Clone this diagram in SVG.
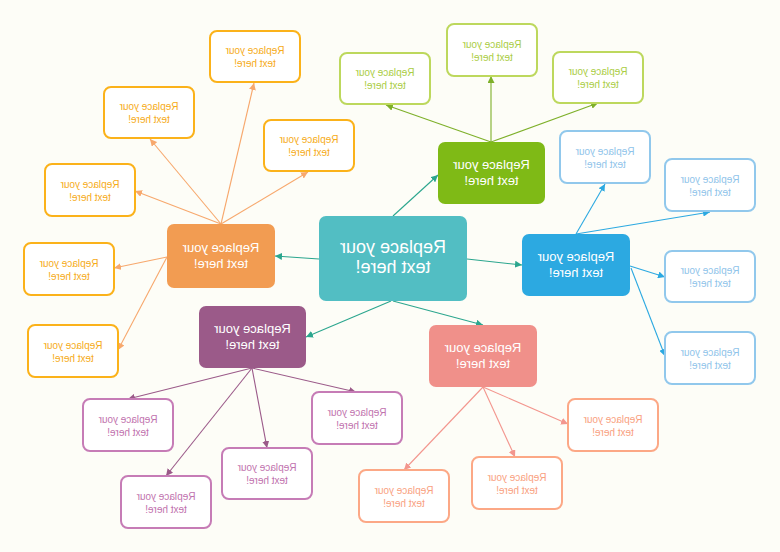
<svg xmlns="http://www.w3.org/2000/svg" width="780" height="552" viewBox="0 0 780 552">
<style>
text{font-family:"Liberation Sans",Arial,sans-serif;text-anchor:middle}
.mt{fill:#fff;font-size:13px}
.ct{fill:#fff;font-size:18px}
.ch{fill:#fff;stroke-width:2}
.cht{font-size:10px}
.o{stroke:#fbb21a}.ot{fill:#f6ab18}
.g{stroke:#bdd85d}.gt{fill:#aacd44}
.b{stroke:#91c8ec}.bt{fill:#8fc4ea}
.p{stroke:#c67cb6}.pt{fill:#bf72ae}
.k{stroke:#fca886}.kt{fill:#f9a17f}
#connectors line{stroke-width:1.1;fill:none}
</style>
<defs>
<marker id="aT" viewBox="0 0 10 10" refX="10" refY="5" markerWidth="7" markerHeight="7" markerUnits="userSpaceOnUse" orient="auto"><path d="M0,0L10,5L0,10z" fill="#2ba68e"/></marker>
<marker id="aO" viewBox="0 0 10 10" refX="10" refY="5" markerWidth="7" markerHeight="7" markerUnits="userSpaceOnUse" orient="auto"><path d="M0,0L10,5L0,10z" fill="#f7a86d"/></marker>
<marker id="aG" viewBox="0 0 10 10" refX="10" refY="5" markerWidth="7" markerHeight="7" markerUnits="userSpaceOnUse" orient="auto"><path d="M0,0L10,5L0,10z" fill="#7eb02a"/></marker>
<marker id="aB" viewBox="0 0 10 10" refX="10" refY="5" markerWidth="7" markerHeight="7" markerUnits="userSpaceOnUse" orient="auto"><path d="M0,0L10,5L0,10z" fill="#2ca9e1"/></marker>
<marker id="aP" viewBox="0 0 10 10" refX="10" refY="5" markerWidth="7" markerHeight="7" markerUnits="userSpaceOnUse" orient="auto"><path d="M0,0L10,5L0,10z" fill="#9b5a89"/></marker>
<marker id="aK" viewBox="0 0 10 10" refX="10" refY="5" markerWidth="7" markerHeight="7" markerUnits="userSpaceOnUse" orient="auto"><path d="M0,0L10,5L0,10z" fill="#f3968e"/></marker>
</defs>
<rect width="780" height="552" fill="#fdfdf7"/>
<g id="connectors">
<line x1="319" y1="259" x2="275" y2="256" stroke="#2ba68e" marker-end="url(#aT)"/>
<line x1="393" y1="216" x2="438" y2="175" stroke="#2ba68e" marker-end="url(#aT)"/>
<line x1="467" y1="259" x2="522" y2="265" stroke="#2ba68e" marker-end="url(#aT)"/>
<line x1="391" y1="301" x2="306" y2="337" stroke="#2ba68e" marker-end="url(#aT)"/>
<line x1="393" y1="301" x2="483" y2="325" stroke="#2ba68e" marker-end="url(#aT)"/>
<line x1="221" y1="224" x2="254" y2="83" stroke="#f7a86d" marker-end="url(#aO)"/>
<line x1="221" y1="224" x2="308" y2="172" stroke="#f7a86d" marker-end="url(#aO)"/>
<line x1="221" y1="224" x2="150" y2="139" stroke="#f7a86d" marker-end="url(#aO)"/>
<line x1="221" y1="224" x2="135" y2="191" stroke="#f7a86d" marker-end="url(#aO)"/>
<line x1="167" y1="257" x2="114" y2="268" stroke="#f7a86d" marker-end="url(#aO)"/>
<line x1="167" y1="257" x2="118" y2="350" stroke="#f7a86d" marker-end="url(#aO)"/>
<line x1="491" y1="142" x2="386" y2="105" stroke="#7eb02a" marker-end="url(#aG)"/>
<line x1="491" y1="142" x2="491" y2="76" stroke="#7eb02a" marker-end="url(#aG)"/>
<line x1="491" y1="142" x2="598" y2="103" stroke="#7eb02a" marker-end="url(#aG)"/>
<line x1="576" y1="234" x2="605" y2="184" stroke="#2ca9e1" marker-end="url(#aB)"/>
<line x1="576" y1="234" x2="710" y2="212" stroke="#2ca9e1" marker-end="url(#aB)"/>
<line x1="630" y1="266" x2="665" y2="277" stroke="#2ca9e1" marker-end="url(#aB)"/>
<line x1="631" y1="268" x2="665" y2="356" stroke="#2ca9e1" marker-end="url(#aB)"/>
<line x1="252" y1="368" x2="128" y2="399" stroke="#9b5a89" marker-end="url(#aP)"/>
<line x1="252" y1="368" x2="166" y2="476" stroke="#9b5a89" marker-end="url(#aP)"/>
<line x1="252" y1="368" x2="267" y2="448" stroke="#9b5a89" marker-end="url(#aP)"/>
<line x1="252" y1="368" x2="356" y2="392" stroke="#9b5a89" marker-end="url(#aP)"/>
<line x1="483" y1="387" x2="404" y2="470" stroke="#f3968e" marker-end="url(#aK)"/>
<line x1="483" y1="387" x2="515" y2="457" stroke="#f3968e" marker-end="url(#aK)"/>
<line x1="483" y1="387" x2="568" y2="424" stroke="#f3968e" marker-end="url(#aK)"/>
</g>
<g id="center"><rect x="319" y="216" width="148" height="85" rx="7" fill="#52bec3"/><text class="ct" transform="matrix(-1 0 0 1 786 0)" x="393" y="253">Replace your</text><text class="ct" transform="matrix(-1 0 0 1 786 0)" x="393" y="273">text here!</text></g>
<g id="orange"><rect x="167" y="224" width="108" height="64" rx="7" fill="#f29c52"/><text class="mt" transform="matrix(-1 0 0 1 442 0)" x="221" y="252">Replace your</text><text class="mt" transform="matrix(-1 0 0 1 442 0)" x="221" y="268">text here!</text></g>
<g id="green"><rect x="438" y="142" width="107" height="62" rx="7" fill="#7fba16"/><text class="mt" transform="matrix(-1 0 0 1 983 0)" x="491.5" y="169">Replace your</text><text class="mt" transform="matrix(-1 0 0 1 983 0)" x="491.5" y="185">text here!</text></g>
<g id="blue"><rect x="522" y="234" width="108" height="62" rx="7" fill="#2ca9e1"/><text class="mt" transform="matrix(-1 0 0 1 1152 0)" x="576" y="261">Replace your</text><text class="mt" transform="matrix(-1 0 0 1 1152 0)" x="576" y="277">text here!</text></g>
<g id="purple"><rect x="199" y="306" width="107" height="62" rx="7" fill="#9b5a89"/><text class="mt" transform="matrix(-1 0 0 1 505 0)" x="252.5" y="333">Replace your</text><text class="mt" transform="matrix(-1 0 0 1 505 0)" x="252.5" y="349">text here!</text></g>
<g id="pink"><rect x="429" y="325" width="108" height="62" rx="7" fill="#f0908a"/><text class="mt" transform="matrix(-1 0 0 1 966 0)" x="483" y="352">Replace your</text><text class="mt" transform="matrix(-1 0 0 1 966 0)" x="483" y="368">text here!</text></g>
<g id="o1"><rect class="ch o" x="210" y="31" width="90" height="51" rx="7"/><text class="cht ot" transform="matrix(-1 0 0 1 510 0)" x="255" y="54">Replace your</text><text class="cht ot" transform="matrix(-1 0 0 1 510 0)" x="255" y="67">text here!</text></g>
<g id="o2"><rect class="ch o" x="264" y="120" width="90" height="51" rx="7"/><text class="cht ot" transform="matrix(-1 0 0 1 618 0)" x="309" y="143">Replace your</text><text class="cht ot" transform="matrix(-1 0 0 1 618 0)" x="309" y="156">text here!</text></g>
<g id="o3"><rect class="ch o" x="104" y="87" width="90" height="51" rx="7"/><text class="cht ot" transform="matrix(-1 0 0 1 298 0)" x="149" y="110">Replace your</text><text class="cht ot" transform="matrix(-1 0 0 1 298 0)" x="149" y="123">text here!</text></g>
<g id="o4"><rect class="ch o" x="45" y="164" width="90" height="52" rx="7"/><text class="cht ot" transform="matrix(-1 0 0 1 180 0)" x="90" y="188">Replace your</text><text class="cht ot" transform="matrix(-1 0 0 1 180 0)" x="90" y="201">text here!</text></g>
<g id="o5"><rect class="ch o" x="24" y="243" width="90" height="52" rx="7"/><text class="cht ot" transform="matrix(-1 0 0 1 138 0)" x="69" y="267">Replace your</text><text class="cht ot" transform="matrix(-1 0 0 1 138 0)" x="69" y="280">text here!</text></g>
<g id="o6"><rect class="ch o" x="28" y="325" width="90" height="52" rx="7"/><text class="cht ot" transform="matrix(-1 0 0 1 146 0)" x="73" y="349">Replace your</text><text class="cht ot" transform="matrix(-1 0 0 1 146 0)" x="73" y="362">text here!</text></g>
<g id="g1"><rect class="ch g" x="340" y="53" width="90" height="51" rx="7"/><text class="cht gt" transform="matrix(-1 0 0 1 770 0)" x="385" y="76">Replace your</text><text class="cht gt" transform="matrix(-1 0 0 1 770 0)" x="385" y="89">text here!</text></g>
<g id="g2"><rect class="ch g" x="447" y="24" width="90" height="52" rx="7"/><text class="cht gt" transform="matrix(-1 0 0 1 984 0)" x="492" y="48">Replace your</text><text class="cht gt" transform="matrix(-1 0 0 1 984 0)" x="492" y="61">text here!</text></g>
<g id="g3"><rect class="ch g" x="553" y="52" width="90" height="51" rx="7"/><text class="cht gt" transform="matrix(-1 0 0 1 1196 0)" x="598" y="75">Replace your</text><text class="cht gt" transform="matrix(-1 0 0 1 1196 0)" x="598" y="88">text here!</text></g>
<g id="b1"><rect class="ch b" x="560" y="131" width="90" height="52" rx="7"/><text class="cht bt" transform="matrix(-1 0 0 1 1210 0)" x="605" y="155">Replace your</text><text class="cht bt" transform="matrix(-1 0 0 1 1210 0)" x="605" y="168">text here!</text></g>
<g id="b2"><rect class="ch b" x="665" y="159" width="90" height="52" rx="7"/><text class="cht bt" transform="matrix(-1 0 0 1 1420 0)" x="710" y="183">Replace your</text><text class="cht bt" transform="matrix(-1 0 0 1 1420 0)" x="710" y="196">text here!</text></g>
<g id="b3"><rect class="ch b" x="665" y="251" width="90" height="51" rx="7"/><text class="cht bt" transform="matrix(-1 0 0 1 1420 0)" x="710" y="274">Replace your</text><text class="cht bt" transform="matrix(-1 0 0 1 1420 0)" x="710" y="287">text here!</text></g>
<g id="b4"><rect class="ch b" x="665" y="332" width="90" height="52" rx="7"/><text class="cht bt" transform="matrix(-1 0 0 1 1420 0)" x="710" y="356">Replace your</text><text class="cht bt" transform="matrix(-1 0 0 1 1420 0)" x="710" y="369">text here!</text></g>
<g id="p1"><rect class="ch p" x="83" y="399" width="90" height="52" rx="7"/><text class="cht pt" transform="matrix(-1 0 0 1 256 0)" x="128" y="423">Replace your</text><text class="cht pt" transform="matrix(-1 0 0 1 256 0)" x="128" y="436">text here!</text></g>
<g id="p2"><rect class="ch p" x="121" y="476" width="90" height="52" rx="7"/><text class="cht pt" transform="matrix(-1 0 0 1 332 0)" x="166" y="500">Replace your</text><text class="cht pt" transform="matrix(-1 0 0 1 332 0)" x="166" y="513">text here!</text></g>
<g id="p3"><rect class="ch p" x="222" y="448" width="90" height="51" rx="7"/><text class="cht pt" transform="matrix(-1 0 0 1 534 0)" x="267" y="471">Replace your</text><text class="cht pt" transform="matrix(-1 0 0 1 534 0)" x="267" y="484">text here!</text></g>
<g id="p4"><rect class="ch p" x="312" y="392" width="90" height="52" rx="7"/><text class="cht pt" transform="matrix(-1 0 0 1 714 0)" x="357" y="416">Replace your</text><text class="cht pt" transform="matrix(-1 0 0 1 714 0)" x="357" y="429">text here!</text></g>
<g id="k1"><rect class="ch k" x="359" y="470" width="90" height="52" rx="7"/><text class="cht kt" transform="matrix(-1 0 0 1 808 0)" x="404" y="494">Replace your</text><text class="cht kt" transform="matrix(-1 0 0 1 808 0)" x="404" y="507">text here!</text></g>
<g id="k2"><rect class="ch k" x="472" y="457" width="90" height="52" rx="7"/><text class="cht kt" transform="matrix(-1 0 0 1 1034 0)" x="517" y="481">Replace your</text><text class="cht kt" transform="matrix(-1 0 0 1 1034 0)" x="517" y="494">text here!</text></g>
<g id="k3"><rect class="ch k" x="568" y="399" width="90" height="52" rx="7"/><text class="cht kt" transform="matrix(-1 0 0 1 1226 0)" x="613" y="423">Replace your</text><text class="cht kt" transform="matrix(-1 0 0 1 1226 0)" x="613" y="436">text here!</text></g>
</svg>
